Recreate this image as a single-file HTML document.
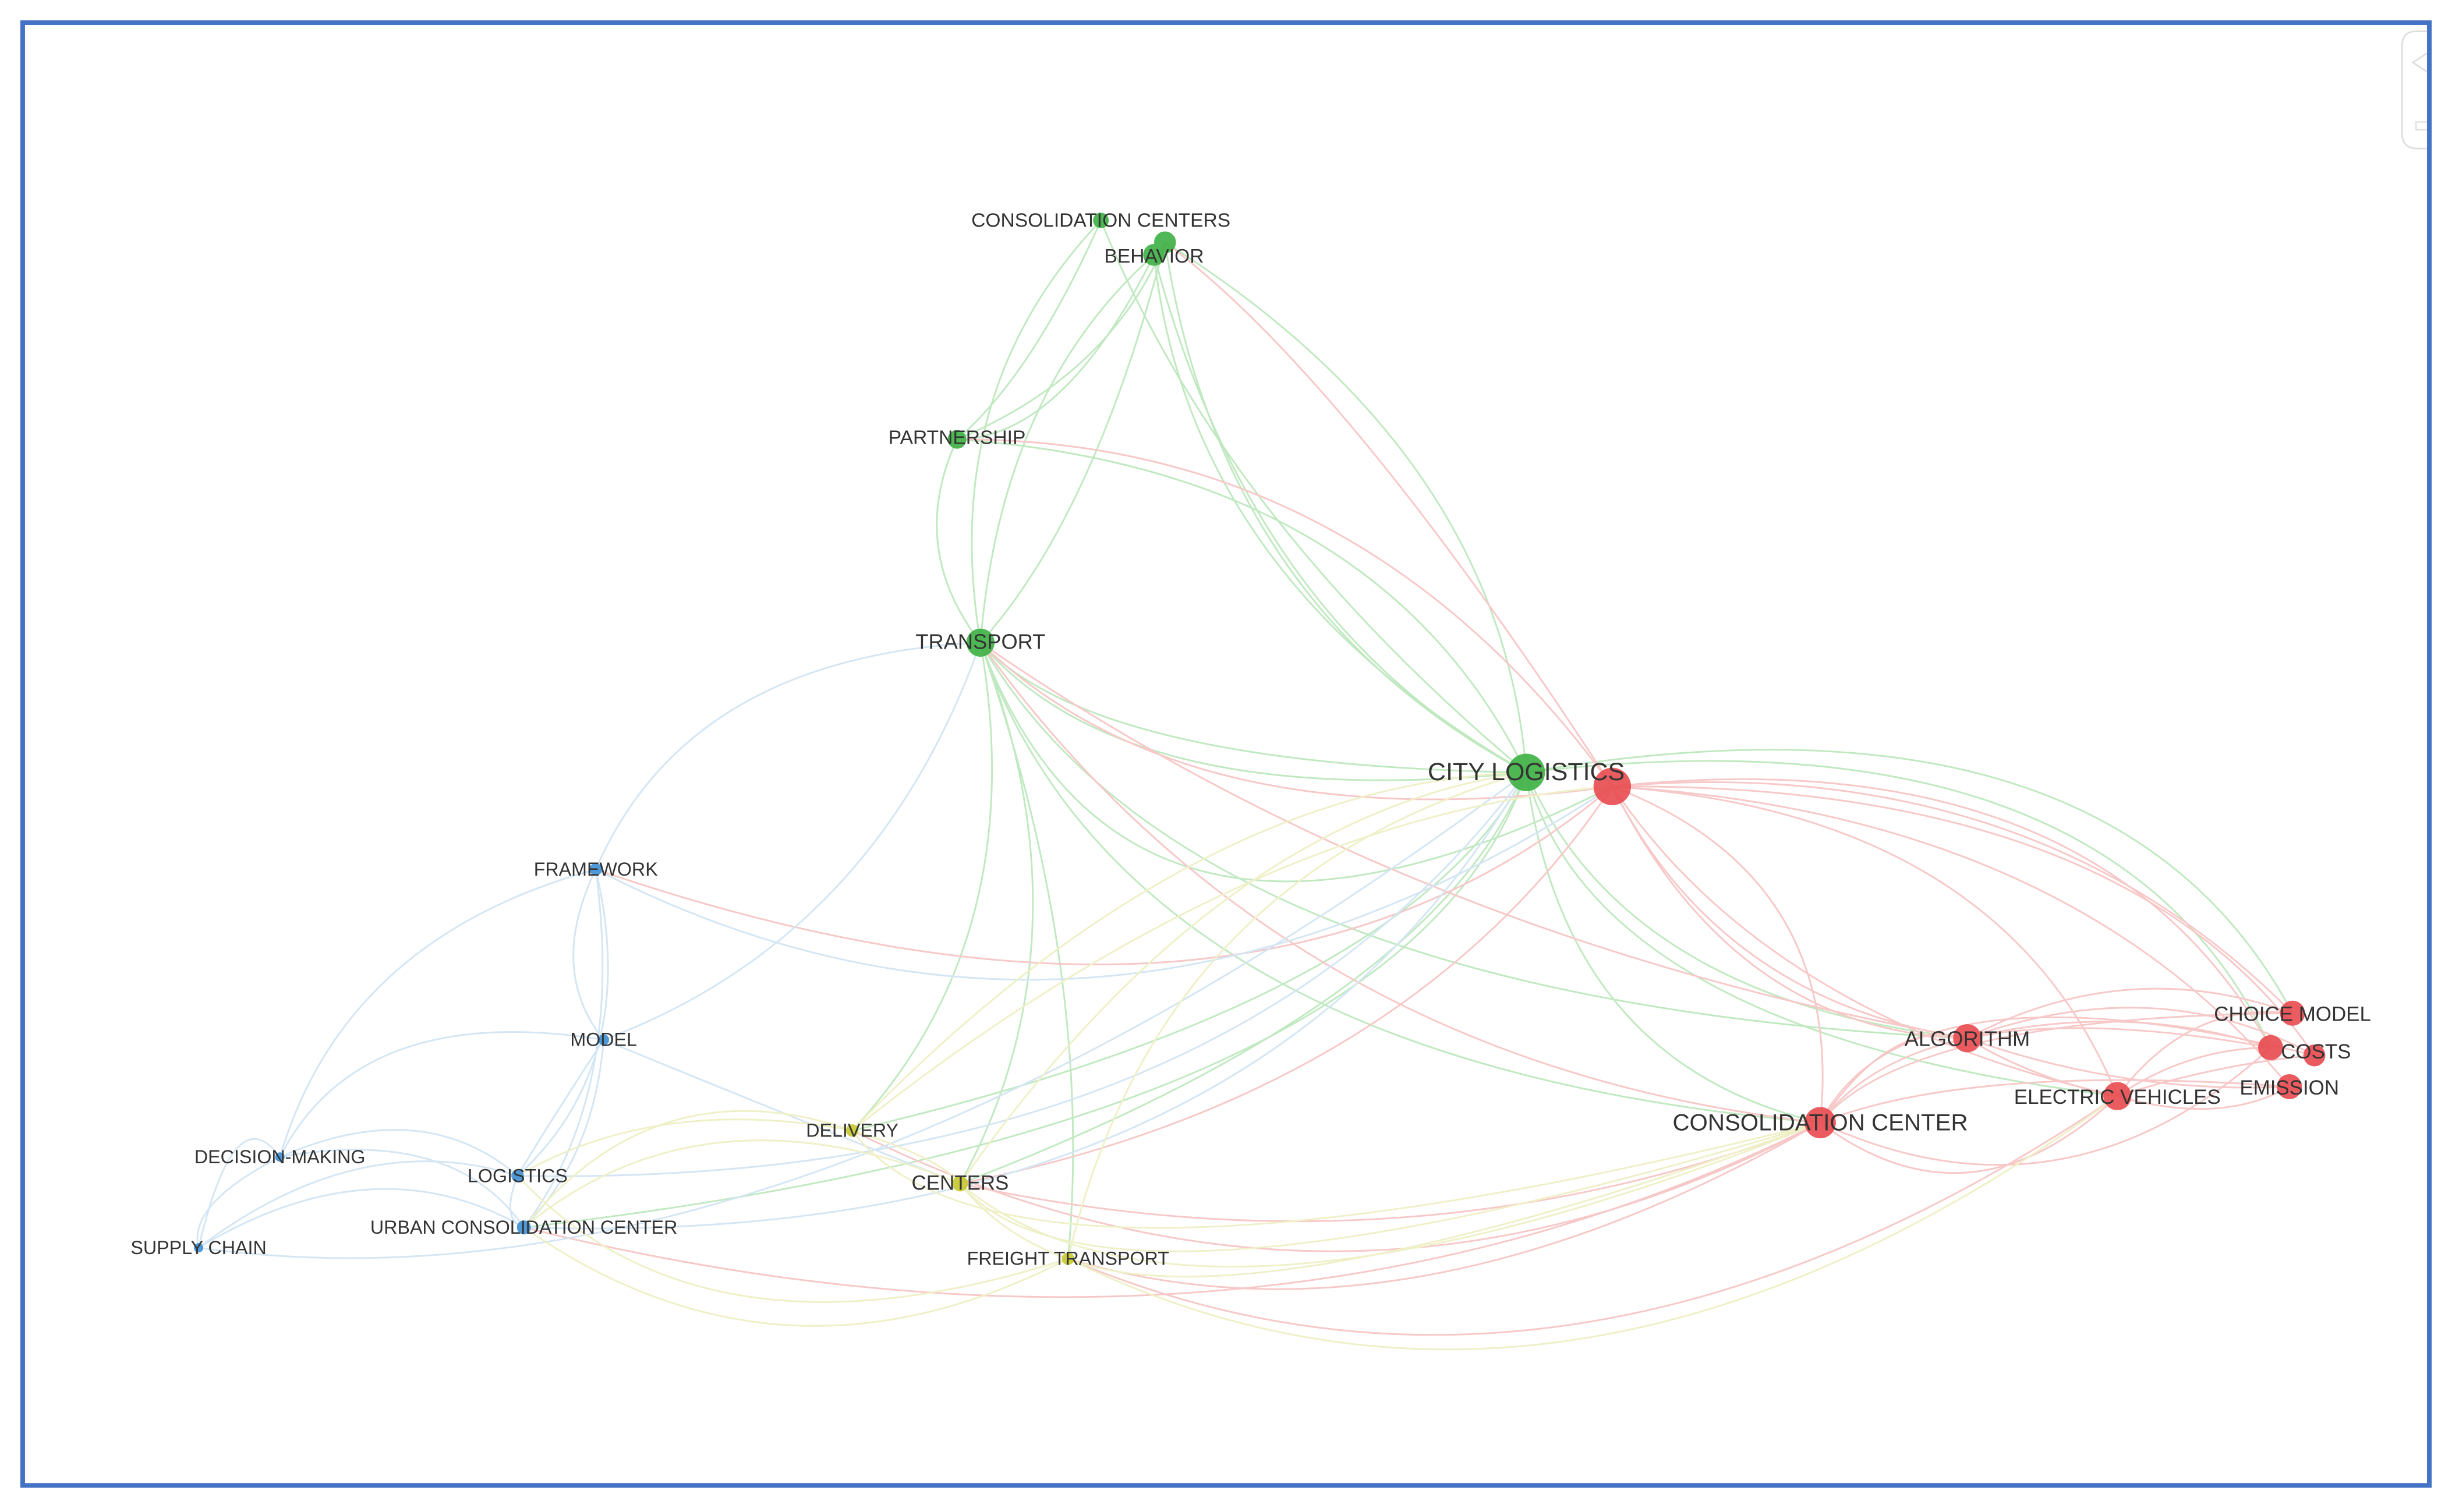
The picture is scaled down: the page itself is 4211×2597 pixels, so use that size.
<!DOCTYPE html>
<html><head><meta charset="utf-8"><style>
html,body{margin:0;padding:0;background:#fff}
svg{display:block}
text{font-family:"Liberation Sans",sans-serif;fill:#333}
</style></head><body>
<svg width="4211" height="2597" viewBox="0 0 1568 967" preserveAspectRatio="none" xmlns="http://www.w3.org/2000/svg">
<rect x="0" y="0" width="1568" height="967" fill="#fff"/>
<path d="M1554 20 L1545 20 Q1536 20 1536 30 L1536 85 Q1536 95 1546 95 L1554 95" fill="none" stroke="#ddd" stroke-width="1"/>
<path d="M1552 34 L1543 40 L1552 46" fill="none" stroke="#ddd" stroke-width="1"/>
<rect x="1545" y="78" width="9" height="5" fill="none" stroke="#ddd" stroke-width="0.8"/>
<g fill="none" stroke-width="1.1" opacity="0.55">
<g stroke="#8fd88f">
<path d="M704 141 Q600 250 627 411"/>
<path d="M738 163 Q640 250 627 411"/>
<path d="M745 155 Q700 330 627 411"/>
<path d="M704 141 Q660 240 612 281"/>
<path d="M738 163 Q680 280 612 281"/>
<path d="M745 155 Q710 240 612 281"/>
<path d="M612 281 Q580 350 627 411"/>
<path d="M704 141 Q780 330 976 494"/>
<path d="M738 163 Q800 400 976 494"/>
<path d="M745 155 Q780 390 976 494"/>
<path d="M745 155 Q960 290 976 494"/>
<path d="M738 163 Q760 370 976 494"/>
<path d="M612 281 Q880 300 976 494"/>
<path d="M627 411 Q720 520 976 494"/>
<path d="M627 411 Q700 490 976 494"/>
<path d="M627 411 Q660 600 545 723"/>
<path d="M627 411 Q700 600 614 757"/>
<path d="M627 411 Q700 620 683 805"/>
<path d="M627 411 Q720 680 1164 718"/>
<path d="M627 411 Q760 640 1258 664"/>
<path d="M627 411 Q720 660 1031 503"/>
<path d="M976 494 Q1040 640 1258 664"/>
<path d="M976 494 Q1020 660 1354 701"/>
<path d="M976 494 Q1000 680 1164 718"/>
<path d="M976 494 Q1350 430 1466 648"/>
<path d="M976 494 Q1350 450 1452 670"/>
<path d="M976 494 Q920 640 614 757"/>
<path d="M976 494 Q900 640 545 723"/>
<path d="M976 494 Q900 720 335 785"/>
</g>
<g stroke="#f29c9c">
<path d="M1031 503 Q1100 640 1258 664"/>
<path d="M1031 503 Q1110 660 1258 664"/>
<path d="M1031 503 Q1130 650 1354 701"/>
<path d="M1031 503 Q1300 480 1466 648"/>
<path d="M1031 503 Q1340 470 1452 670"/>
<path d="M1031 503 Q1360 500 1480 675"/>
<path d="M1031 503 Q1320 520 1464 695"/>
<path d="M1031 503 Q1180 560 1164 718"/>
<path d="M1031 503 Q1280 520 1354 701"/>
<path d="M1031 503 Q870 280 612 281"/>
<path d="M1031 503 Q860 240 745 155"/>
<path d="M1031 503 Q760 540 627 411"/>
<path d="M1031 503 Q800 700 381 556"/>
<path d="M1031 503 Q900 700 614 757"/>
<path d="M1164 718 Q1220 650 1466 648"/>
<path d="M1164 718 Q1230 630 1452 670"/>
<path d="M1164 718 Q1220 610 1480 675"/>
<path d="M1164 718 Q1260 680 1464 695"/>
<path d="M1164 718 Q1260 790 1354 701"/>
<path d="M1164 718 Q1320 790 1452 670"/>
<path d="M1164 718 Q1210 650 1258 664"/>
<path d="M1258 664 Q1360 610 1466 648"/>
<path d="M1258 664 Q1360 640 1452 670"/>
<path d="M1258 664 Q1380 620 1480 675"/>
<path d="M1258 664 Q1360 700 1464 695"/>
<path d="M1258 664 Q1300 690 1354 701"/>
<path d="M1354 701 Q1400 640 1466 648"/>
<path d="M1354 701 Q1400 670 1452 670"/>
<path d="M1354 701 Q1420 720 1464 695"/>
<path d="M1354 701 Q1420 680 1480 675"/>
<path d="M1164 718 Q900 820 614 757"/>
<path d="M1164 718 Q900 870 683 805"/>
<path d="M1164 718 Q860 880 545 723"/>
<path d="M1164 718 Q800 900 335 785"/>
<path d="M1354 701 Q1000 940 683 805"/>
<path d="M1258 664 Q900 600 627 411"/>
<path d="M1164 718 Q820 680 627 411"/>
</g>
<g stroke="#b2d3ec">
<path d="M381 556 Q440 420 627 411"/>
<path d="M381 556 Q350 620 386 665"/>
<path d="M381 556 Q410 680 331 752"/>
<path d="M381 556 Q400 700 335 785"/>
<path d="M381 556 Q220 600 179 740"/>
<path d="M386 665 Q560 600 627 411"/>
<path d="M386 665 Q230 640 179 740"/>
<path d="M386 665 Q350 720 331 752"/>
<path d="M386 665 Q380 740 335 785"/>
<path d="M386 665 Q520 720 614 757"/>
<path d="M179 740 Q270 700 331 752"/>
<path d="M179 740 Q290 720 335 785"/>
<path d="M179 740 Q120 770 127 798"/>
<path d="M127 798 Q230 720 331 752"/>
<path d="M127 798 Q240 730 335 785"/>
<path d="M127 798 Q150 700 179 740"/>
<path d="M127 798 Q500 850 976 494"/>
<path d="M331 752 Q320 780 335 785"/>
<path d="M335 785 Q800 800 976 494"/>
<path d="M331 752 Q780 760 976 494"/>
<path d="M381 556 Q700 720 1031 503"/>
</g>
<g stroke="#e3e49a">
<path d="M545 723 Q600 740 614 757"/>
<path d="M545 723 Q420 680 335 785"/>
<path d="M545 723 Q420 700 331 752"/>
<path d="M545 723 Q760 500 976 494"/>
<path d="M545 723 Q800 520 1031 503"/>
<path d="M614 757 Q780 520 976 494"/>
<path d="M614 757 Q640 790 683 805"/>
<path d="M614 757 Q450 690 335 785"/>
<path d="M614 757 Q700 860 1164 718"/>
<path d="M614 757 Q760 880 1164 718"/>
<path d="M683 805 Q500 900 335 785"/>
<path d="M683 805 Q450 880 331 752"/>
<path d="M683 805 Q1000 960 1354 701"/>
<path d="M683 805 Q800 850 1164 718"/>
<path d="M683 805 Q740 560 976 494"/>
<path d="M545 723 Q640 850 1164 718"/>
</g>
</g>
<g opacity="0.9">
<circle cx="704" cy="141" r="5" fill="#3cb043"/>
<circle cx="745" cy="155" r="7" fill="#3cb043"/>
<circle cx="738" cy="163" r="7" fill="#3cb043"/>
<circle cx="612" cy="281" r="6" fill="#3cb043"/>
<circle cx="627" cy="411" r="9" fill="#3cb043"/>
<circle cx="976" cy="494" r="12" fill="#3cb043"/>
<circle cx="1031" cy="503" r="12" fill="#e84a4f"/>
<circle cx="1258" cy="664" r="9" fill="#e84a4f"/>
<circle cx="1164" cy="718" r="10" fill="#e84a4f"/>
<circle cx="1354" cy="701" r="9" fill="#e84a4f"/>
<circle cx="1466" cy="648" r="8" fill="#e84a4f"/>
<circle cx="1452" cy="670" r="8" fill="#e84a4f"/>
<circle cx="1480" cy="675" r="7" fill="#e84a4f"/>
<circle cx="1464" cy="695" r="8" fill="#e84a4f"/>
<circle cx="381" cy="556" r="4" fill="#3d8fd4"/>
<circle cx="386" cy="665" r="3.5" fill="#3d8fd4"/>
<circle cx="179" cy="740" r="3" fill="#3d8fd4"/>
<circle cx="331" cy="752" r="4" fill="#3d8fd4"/>
<circle cx="335" cy="785" r="4.5" fill="#3d8fd4"/>
<circle cx="127" cy="798" r="3" fill="#3d8fd4"/>
<circle cx="545" cy="723" r="4" fill="#c8c830"/>
<circle cx="614" cy="757" r="5" fill="#c8c830"/>
<circle cx="683" cy="805" r="4" fill="#c8c830"/>
</g>
<g text-anchor="middle" font-size="12.5">
<text x="704" y="145">CONSOLIDATION CENTERS</text>
<text x="738" y="168">BEHAVIOR</text>
<text x="612" y="284">PARTNERSHIP</text>
<text x="627" y="415" font-size="13.5">TRANSPORT</text>
<text x="976" y="499" font-size="16">CITY LOGISTICS</text>
<text x="381" y="560" font-size="12">FRAMEWORK</text>
<text x="386" y="669" font-size="12">MODEL</text>
<text x="179" y="744" font-size="12">DECISION-MAKING</text>
<text x="331" y="756" font-size="12">LOGISTICS</text>
<text x="335" y="789" font-size="12">URBAN CONSOLIDATION CENTER</text>
<text x="127" y="802" font-size="12">SUPPLY CHAIN</text>
<text x="545" y="727" font-size="12">DELIVERY</text>
<text x="614" y="761" font-size="13">CENTERS</text>
<text x="683" y="809" font-size="12">FREIGHT TRANSPORT</text>
<text x="1258" y="669" font-size="13.5">ALGORITHM</text>
<text x="1164" y="723" font-size="15">CONSOLIDATION CENTER</text>
<text x="1354" y="706" font-size="13">ELECTRIC VEHICLES</text>
<text x="1466" y="653" font-size="13">CHOICE MODEL</text>
<text x="1481" y="677" font-size="13">COSTS</text>
<text x="1464" y="700" font-size="13">EMISSION</text>
</g>
<rect x="14.5" y="14.5" width="1539" height="935.5" fill="none" stroke="#4472c4" stroke-width="3"/>
</svg>
</body></html>
